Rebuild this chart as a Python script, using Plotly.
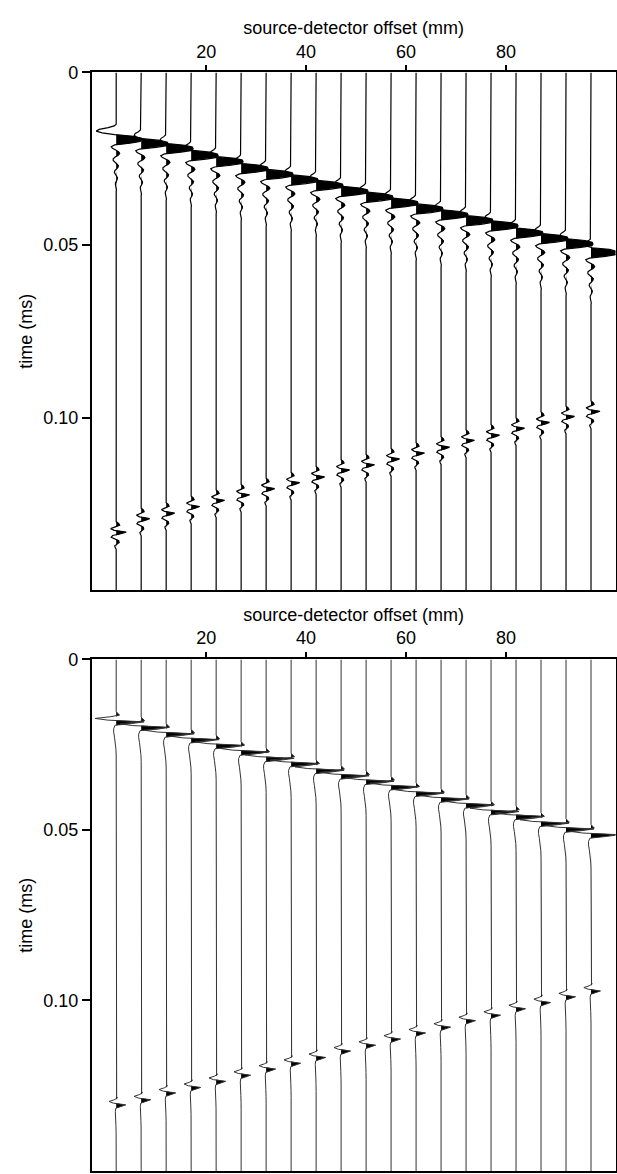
import plotly.graph_objects as go

# Source-detector offsets of the 20 traces (mm)
offsets_mm = [2, 7, 12, 17, 22, 27, 32, 37, 42, 47, 52, 57, 62, 67, 72, 77, 82, 87, 92, 97]

# Recorded section (upper panel)
# direct arrival: time of the main positive peak (ms) and its deflection (mm)
rec_direct_t = [0.0195, 0.0207, 0.0221, 0.0241, 0.0259, 0.0279, 0.0296, 0.0312, 0.0328, 0.0345,
                0.0362, 0.0379, 0.0396, 0.0413, 0.0430, 0.0445, 0.0466, 0.0482, 0.0497, 0.0523]
rec_direct_amp = [5.0, 5.4, 5.4, 5.4, 5.4, 5.4, 5.4, 5.4, 5.4, 5.4,
                  5.4, 5.4, 5.4, 5.4, 5.4, 5.4, 5.4, 5.4, 5.4, 5.2]
# leading trough in front of the direct arrival (mm)
rec_direct_lead = [4.0, 1.4, 1.2, 1.2, 1.2, 1.2, 1.2, 1.2, 1.2, 1.2,
                   1.2, 1.2, 1.2, 1.2, 1.2, 1.2, 1.2, 1.2, 1.2, 1.4]
# later event
rec_late_t = [0.1332, 0.1293, 0.1277, 0.1258, 0.1240, 0.1224, 0.1206, 0.1189, 0.1172, 0.1152,
              0.1137, 0.1120, 0.1103, 0.1086, 0.1066, 0.1051, 0.1031, 0.1014, 0.0997, 0.0982]
rec_late_amp = [2.0, 1.7, 1.7, 1.7, 1.7, 1.7, 1.7, 1.7, 1.7, 1.7,
                1.7, 1.7, 1.7, 1.7, 1.7, 1.7, 1.7, 1.7, 1.7, 1.8]

# Modelled section (lower panel)
syn_direct_t = [0.0183, 0.0199, 0.0218, 0.0235, 0.0252, 0.0271, 0.0290, 0.0305, 0.0325, 0.0341,
                0.0357, 0.0373, 0.0392, 0.0409, 0.0426, 0.0446, 0.0460, 0.0480, 0.0497, 0.0514]
syn_direct_amp = [5.6, 5.6, 5.6, 5.6, 5.6, 5.6, 5.6, 5.6, 5.6, 5.6,
                  5.6, 5.6, 5.6, 5.6, 5.6, 5.6, 5.6, 5.6, 5.6, 5.6]
syn_late_t = [0.1306, 0.1291, 0.1271, 0.1255, 0.1237, 0.1219, 0.1201, 0.1184, 0.1167, 0.1148,
              0.1131, 0.1113, 0.1095, 0.1078, 0.1059, 0.1043, 0.1024, 0.1006, 0.0989, 0.0972]
syn_late_amp = [1.9, 1.9, 1.9, 1.9, 1.9, 1.9, 1.9, 1.9, 1.9, 1.9,
                1.9, 1.9, 1.9, 1.9, 1.9, 1.9, 1.9, 1.9, 1.9, 1.9]

# Pulse shapes: lag (ms) relative to the main peak, normalised deflection
rec_pulse_lag = [-0.0045, -0.0040, -0.0035, -0.0030, -0.0025, -0.0020, -0.0015, -0.0010, -0.0005, 0.0,
                 0.0005, 0.0010, 0.0015, 0.0020, 0.0025, 0.0030, 0.0035, 0.0040, 0.0045, 0.0050,
                 0.0055, 0.0060, 0.0065, 0.0070, 0.0075, 0.0080, 0.0085, 0.0090, 0.0095, 0.0100,
                 0.0105, 0.0110, 0.0115, 0.0120, 0.0125, 0.0130, 0.0135, 0.0140, 0.0145, 0.0150]
rec_pulse_main = [0.00, 0.00, 0.00, 0.00, 0.00, 0.00, 0.10, 0.70, 0.97, 1.00,
                  0.96, 0.55, -0.06, -0.20, -0.15, -0.02, 0.10, 0.14, 0.08, -0.04,
                  -0.12, -0.12, -0.05, 0.05, 0.09, 0.07, 0.01, -0.06, -0.07, -0.04,
                  0.02, 0.05, 0.04, 0.00, -0.03, -0.03, -0.01, 0.01, 0.01, 0.00]
rec_pulse_lead = [0.00, -0.10, -0.40, -0.85, -1.00, -0.70, -0.20, 0.00, 0.00, 0.00,
                  0.00, 0.00, 0.00, 0.00, 0.00, 0.00, 0.00, 0.00, 0.00, 0.00,
                  0.00, 0.00, 0.00, 0.00, 0.00, 0.00, 0.00, 0.00, 0.00, 0.00,
                  0.00, 0.00, 0.00, 0.00, 0.00, 0.00, 0.00, 0.00, 0.00, 0.00]
rec_echo_lag = [-0.0030, -0.0025, -0.0020, -0.0015, -0.0010, -0.0005, 0.0, 0.0005, 0.0010,
                0.0015, 0.0020, 0.0025, 0.0030, 0.0035, 0.0040, 0.0045, 0.0050]
rec_echo_shape = [0.00, 0.25, 0.35, -0.10, -0.55, -0.20, 1.00, 0.45, -0.35,
                  -0.50, -0.15, 0.25, 0.30, 0.05, -0.15, -0.10, 0.00]
syn_pulse_lag = [-0.0030, -0.0025, -0.0020, -0.0015, -0.0010, -0.0005, 0.0, 0.0005, 0.0010,
                 0.0020, 0.0030, 0.0045, 0.0060, 0.0080, 0.0100]
syn_pulse_shape = [0.00, 0.05, 0.12, -0.20, -0.75, -0.30, 1.00, 0.55, -0.04,
                   -0.09, -0.09, -0.06, -0.03, -0.01, 0.00]

T_END = 0.15


def section(events_per_trace):
    """Wiggle lines and positive-lobe fill for one panel."""
    line_x, line_y, fill_x, fill_y = [], [], [], []
    for off, events in zip(offsets_mm, events_per_trace):
        ts, vs = [0.0], [0.0]
        for t_peak, lags, vals in events:
            for lag, v in zip(lags, vals):
                ts.append(t_peak + lag)
                vs.append(v)
        ts.append(T_END)
        vs.append(0.0)
        line_x += [off + v for v in vs] + [None]
        line_y += ts + [None]
        fill_x += [off + max(v, 0.0) for v in vs] + [None]
        fill_y += ts + [None]
    return line_x, line_y, fill_x, fill_y


rec_events = []
for i in range(len(offsets_mm)):
    direct = [rec_direct_amp[i] * m + rec_direct_lead[i] * l
              for m, l in zip(rec_pulse_main, rec_pulse_lead)]
    late = [rec_late_amp[i] * s for s in rec_echo_shape]
    rec_events.append([(rec_direct_t[i], rec_pulse_lag, direct),
                       (rec_late_t[i], rec_echo_lag, late)])

syn_events = []
for i in range(len(offsets_mm)):
    direct = [syn_direct_amp[i] * s for s in syn_pulse_shape]
    late = [syn_late_amp[i] * s for s in syn_pulse_shape]
    syn_events.append([(syn_direct_t[i], syn_pulse_lag, direct),
                       (syn_late_t[i], syn_pulse_lag, late)])

fig = go.Figure()

for events, xa, ya, lw, col in [(rec_events, "x", "y", 1.2, "black"),
                                (syn_events, "x2", "y2", 1.0, "#333333")]:
    lx, ly, fx, fy = section(events)
    fig.add_trace(go.Scatter(x=fx, y=fy, mode="lines", fill="toself", fillcolor="black",
                             line=dict(width=0, color="black"), hoverinfo="skip",
                             showlegend=False, xaxis=xa, yaxis=ya))
    fig.add_trace(go.Scatter(x=lx, y=ly, mode="lines", line=dict(width=lw, color=col),
                             hoverinfo="skip", showlegend=False, xaxis=xa, yaxis=ya))

FONT = dict(family="Liberation Sans, Arial, sans-serif", size=18, color="black")
W, H = 617, 1174
x_dom = [91.7 / W, 615.5 / W]


def x_axis(anchor):
    return dict(domain=x_dom, anchor=anchor, side="top", range=[-2.9, 101.9],
                tickvals=[20, 40, 60, 80], ticks="outside", ticklen=6, tickwidth=1.5,
                tickcolor="black", tickfont=FONT, showline=True, linecolor="black",
                linewidth=1.5, mirror=True, showgrid=False, zeroline=False,
                title=dict(text="source-detector offset (mm)", font=FONT, standoff=2))


def y_axis(anchor, top_px, bottom_px):
    return dict(domain=[1 - bottom_px / H, 1 - top_px / H], anchor=anchor,
                range=[T_END, 0], tickvals=[0, 0.05, 0.10], ticktext=["0", "0.05", "0.10"],
                ticks="outside", ticklen=8, tickwidth=1.5, tickcolor="black", tickfont=FONT,
                showline=True, linecolor="black", linewidth=1.8, mirror=True,
                showgrid=False, zeroline=False,
                title=dict(text="time (ms)", font=FONT, standoff=6))


fig.update_layout(
    width=W, height=H,
    margin=dict(l=0, r=0, t=0, b=0),
    paper_bgcolor="white", plot_bgcolor="white",
    font=FONT,
    xaxis=x_axis("y"), yaxis=y_axis("x", 63, 585),
    xaxis2=x_axis("y2"), yaxis2=y_axis("x2", 655, 1171),
)

fig.write_html("out.html")
